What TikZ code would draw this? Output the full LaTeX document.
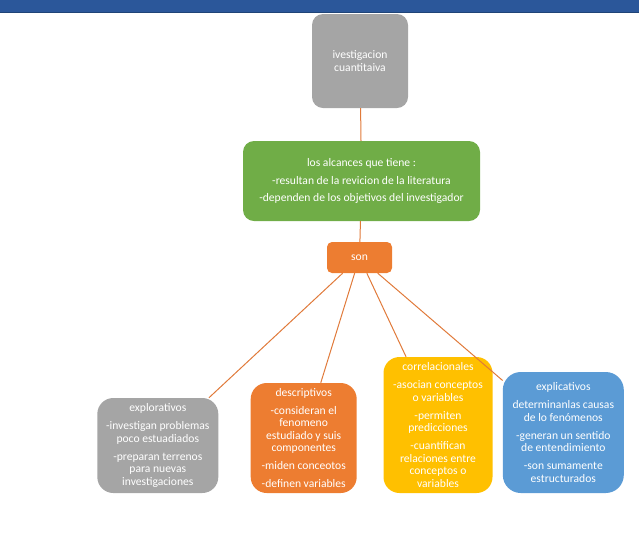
\documentclass[tikz,border=0pt]{standalone}
\usepackage{fontspec}
\setmainfont{Carlito}
\definecolor{barblue}{HTML}{2B579A}
\definecolor{bardark}{HTML}{1F4477}
\definecolor{boxgray}{HTML}{A5A5A5}
\definecolor{boxgreen}{HTML}{70AD47}
\definecolor{boxorange}{HTML}{ED7D31}
\definecolor{boxyellow}{HTML}{FFC000}
\definecolor{boxblue}{HTML}{5B9BD5}
\definecolor{linkorange}{HTML}{E07A3A}
\begin{document}
\begin{tikzpicture}[x=1pt,y=-1pt,
  box/.style={rectangle, rounded corners=#1, draw=none, text=white, inner sep=0pt, align=center,
    font=\fontsize{11.6}{12.5}\selectfont},
  box/.default=15pt,
  link/.style={draw=linkorange, line width=1pt}]
\useasboundingbox (0,0) rectangle (639,558);
\fill[barblue] (0,0) rectangle (639,12);
\fill[bardark] (0,11.5) rectangle (639,13);

\node[box=11pt, fill=boxgray, minimum width=96pt, minimum height=94pt] (top) at (360,61)
  {ivestigacion\\cuantitaiva};
\node[box=11pt, fill=boxgreen, minimum width=237pt, minimum height=80pt] (alc) at (361.5,181)
  {los alcances que tiene :\\[5pt]-resultan de la revicion de la literatura\\[5pt]-dependen de los objetivos del investigador};
\node[box=5pt, fill=boxorange, minimum width=65pt, minimum height=31pt] (son) at (359.5,257.5) {son};

\node[box=16pt, fill=boxgray, minimum width=121pt, minimum height=95pt] (expl) at (157.8,445.5)
  {explorativos\\[5.5pt]-investigan problemas\\poco estuadiados\\[5.5pt]-preparan terrenos\\para nuevas\\investigaciones};
\node[box=16pt, fill=boxorange, minimum width=106pt, minimum height=110pt] (desc) at (303.7,438)
  {descriptivos\\[5.5pt]-consideran el\\fenomeno\\estudiado y suis\\componentes\\[5.5pt]-miden conceotos\\[5.5pt]-definen variables};
\node[box=16pt, fill=boxyellow, minimum width=109pt, minimum height=136pt] (corr) at (438,425)
  {correlacionales\\[5.5pt]-asocian conceptos\\o variables\\[5.5pt]-permiten\\predicciones\\[5.5pt]-cuantifican\\relaciones entre\\conceptos o\\variables};
\node[box=18pt, fill=boxblue, minimum width=121pt, minimum height=121pt] (expc) at (563.3,432.5)
  {explicativos\\[5.5pt]determinanlas causas\\de lo fenómenos\\[5.5pt]-generan un sentido\\de entendimiento\\[5.5pt]-son sumamente\\estructurados};

\draw[link] (top) -- (alc);
\draw[link] (alc) -- (son);
\draw[link] (son) -- (expl);
\draw[link] (son) -- (desc);
\draw[link] (son) -- (corr);
\draw[link] (son) -- (expc);
\end{tikzpicture}
\end{document}
